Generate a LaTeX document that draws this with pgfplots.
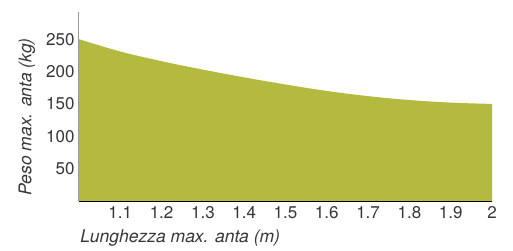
\documentclass[border=0pt]{standalone}
\usepackage{pgfplots}
\pgfplotsset{compat=1.18}
\usepackage{fontspec}
\setmainfont{TeX Gyre Heros}
\definecolor{olivefill}{RGB}{180,185,63}
\definecolor{ticktext}{RGB}{55,55,55}
\begin{document}
\begin{tikzpicture}[x=1pt,y=1pt]
\begin{axis}[
  at={(0,0)}, anchor=south west,
  scale only axis,
  width=413pt, height=189pt,
  xmin=1, xmax=2, ymin=0, ymax=292,
  axis x line*=bottom, axis y line*=left,
  x axis line style={black, line width=1pt, -},
  y axis line style={gray!80, line width=1pt, -},
  xtick={1.1,1.2,1.3,1.4,1.5,1.6,1.7,1.8,1.9,2},
  xticklabels={1.1,1.2,1.3,1.4,1.5,1.6,1.7,1.8,1.9,2},
  ytick={50,100,150,200,250},
  major tick length=0pt,
  tick style={draw=none},
  /pgf/number format/assume math mode=true,
  tick label style={font=\fontsize{17}{19}\selectfont, text=ticktext},
  xticklabel style={yshift=-2pt},
  yticklabel style={xshift=-1pt},
  xlabel={Lunghezza max. anta (m)},
  ylabel={Peso max. anta (kg)},
  label style={font=\fontsize{17.5}{19}\selectfont\itshape, text=ticktext},
  xlabel style={at={(axis description cs:-0.005,-0.196)}, anchor=west},
  ylabel style={at={(axis description cs:-0.126,0.445)}, anchor=center},
  axis on top,
]
\addplot[fill=olivefill, draw=none, smooth, tension=0.6] coordinates {
 (1.0,250) (1.1,231) (1.2,216) (1.3,203) (1.4,191) (1.5,180) (1.6,170) (1.7,162) (1.8,156) (1.9,152) (2.0,150)
} \closedcycle;
\end{axis}
\pgfresetboundingbox
\path[use as bounding box] (-79pt,-50pt) rectangle (434pt,201pt);
\end{tikzpicture}
\end{document}
